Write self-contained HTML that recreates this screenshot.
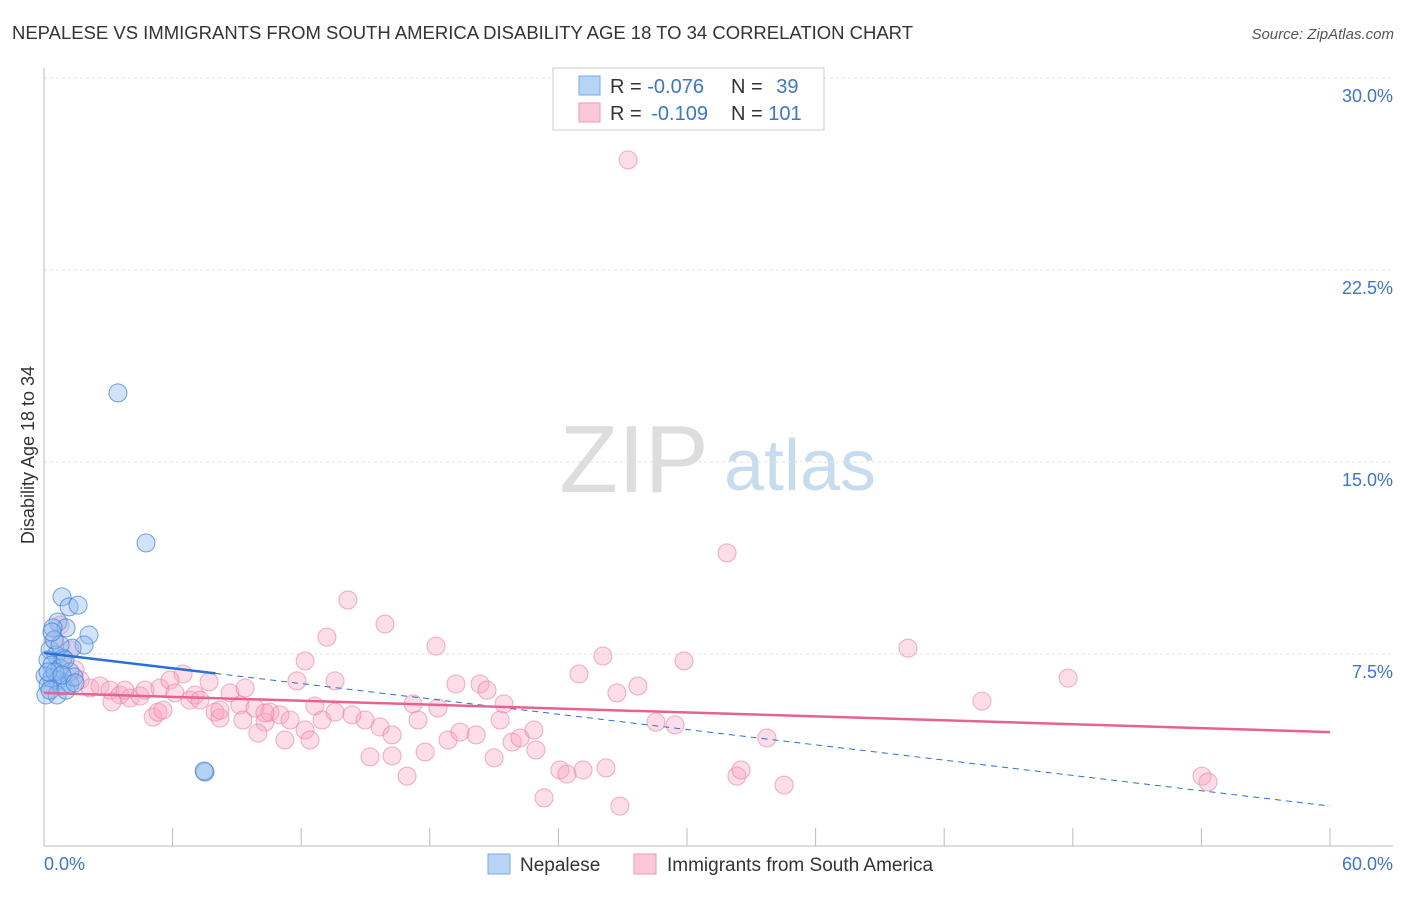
<!DOCTYPE html>
<html><head><meta charset="utf-8"><style>
body{margin:0;background:#fff;font-family:"Liberation Sans",sans-serif}
svg text{font-family:"Liberation Sans",sans-serif}
</style></head><body>
<svg id="c" width="1406" height="892">
<text x="12" y="39" font-size="18" fill="#333" textLength="901" lengthAdjust="spacingAndGlyphs">NEPALESE VS IMMIGRANTS FROM SOUTH AMERICA DISABILITY AGE 18 TO 34 CORRELATION CHART</text>
<text x="1394" y="39" font-size="15" fill="#555" font-style="italic" text-anchor="end">Source: ZipAtlas.com</text>
<text x="634" y="492" font-size="96" fill="#ddd" font-family="Liberation Serif" text-anchor="middle">ZIP</text>
<text x="800" y="490" font-size="72" fill="#c8dcf0" text-anchor="middle">atlas</text>
<text transform="translate(34,455) rotate(-90)" font-size="18" fill="#333" text-anchor="middle">Disability Age 18 to 34</text>
<g id="grid"></g><g id="pts"></g><g id="lines"></g>
<g>
<rect x="553" y="68" width="271" height="62" fill="#fff" stroke="#ccc"/>
<rect x="579" y="76" width="21" height="19" fill="#b8d4f5" stroke="#7aaae8"/>
<rect x="579" y="103" width="21" height="19" fill="#fcc8d8" stroke="#f09ab5"/>
<text x="610" y="93" font-size="20" fill="#333">R = <tspan fill="#3a75d0">-0.076</tspan></text>
<text x="731" y="93" font-size="20" fill="#333">N = <tspan fill="#3a75d0" dx="8">39</tspan></text>
<text x="610" y="120" font-size="20" fill="#333">R = <tspan fill="#3a75d0" dx="4">-0.109</tspan></text>
<text x="731" y="120" font-size="20" fill="#333">N = <tspan fill="#3a75d0">101</tspan></text>
</g>
<g>
<rect x="488" y="854" width="22" height="20" fill="#b8d4f5" stroke="#7aaae8"/>
<text x="520" y="871" font-size="19" fill="#333">Nepalese</text>
<rect x="634" y="854" width="22" height="20" fill="#fcc8d8" stroke="#f09ab5"/>
<text x="667" y="871" font-size="19" fill="#333">Immigrants from South America</text>
</g>
</svg>
<script>
const yTicks=[7.5,15,22.5,30];
const yTickLabels=["7.5%","15.0%","22.5%","30.0%"];
const xTicks=[0,6,12,18,24,30,36,42,48,54,60];
const blueX=[3.45,4.76,7.51,0.84,1.17,1.59,2.10,0.65,1.03,0.42,1.87,1.31,0.28,0.56,0.89,0.19,0.37,0.75,1.21,0.05,0.37,0.65,0.19,0.84,1.21,0.09,0.61,0.28,1.03,1.40,0.47,0.75,0.98,0.51,0.19,0.84,1.45,7.47,0.37];
const blueY=[17.70,11.84,2.89,9.73,9.34,9.41,8.24,8.75,8.52,8.52,7.85,7.73,7.66,7.46,7.34,7.27,7.07,6.95,6.80,6.64,6.56,6.48,6.29,6.25,6.33,5.90,5.90,6.09,6.09,6.60,8.05,7.85,7.27,6.80,6.80,6.68,6.37,2.93,8.36];
const pinkX=[27.25,31.87,14.18,15.91,13.20,18.29,26.08,29.86,40.31,12.18,24.96,47.78,6.49,7.70,11.80,13.58,19.22,20.34,20.67,27.71,26.73,43.76,0.75,0.51,1.21,0.84,1.45,1.68,2.15,2.61,3.08,3.55,4.01,4.48,4.71,5.41,5.88,6.11,6.81,7.05,7.28,7.98,8.21,8.68,9.14,9.38,9.84,10.31,10.54,11.01,11.48,12.18,12.64,12.97,13.58,14.37,14.98,15.68,16.24,17.22,17.45,18.38,18.85,19.41,20.16,21.28,21.46,21.84,22.21,22.86,22.95,5.09,5.32,5.55,3.17,3.78,9.98,11.24,12.41,15.21,16.24,16.94,17.78,21.00,23.33,24.07,24.40,25.15,26.22,26.87,28.55,29.44,32.33,32.52,33.73,34.53,54.03,54.31,8.21,9.28,10.31];
const pinkY=[26.80,11.45,9.61,8.67,8.16,7.81,7.42,7.23,7.73,7.23,6.72,6.56,6.72,6.41,6.45,6.45,6.33,6.33,6.09,6.25,5.98,5.66,8.63,8.05,7.66,7.27,6.88,6.48,6.17,6.25,6.09,5.90,5.78,5.86,6.09,6.17,6.48,5.98,5.70,5.90,5.70,5.23,5.00,5.98,5.51,6.17,5.39,4.84,5.23,5.12,4.92,4.53,5.47,4.92,5.23,5.12,4.92,4.65,4.34,5.55,4.92,5.39,4.14,4.45,4.34,4.92,5.55,4.06,4.22,4.53,3.75,5.04,5.23,5.31,5.63,6.09,4.41,4.14,4.14,3.48,3.52,2.73,3.67,3.44,1.88,2.97,2.81,2.97,3.05,1.56,4.84,4.73,2.73,2.97,4.22,2.38,2.73,2.50,5.31,4.92,5.20];
const blueTrend=[7.54,1.56];
const pinkTrend=[5.98,4.45];
const NS='http://www.w3.org/2000/svg';
const X=v=>44+v/60*1286, Y=v=>846-v/7.5*192;
function mk(t,a,p){const e=document.createElementNS(NS,t);for(const k in a)e.setAttribute(k,a[k]);p.appendChild(e);return e;}
const g=document.getElementById('grid');
let ax=mk('line',{x1:44,y1:68,x2:44,y2:846,stroke:'#bbb'},g);


let bx=mk('line',{x1:44,y1:846,x2:1393,y2:846,stroke:'#bbb'},g);


yTicks.forEach((t,i)=>{
 const l=mk('line',{x1:44,x2:1393,y1:Y(t),y2:Y(t),stroke:'#e2e2e2','stroke-dasharray':'3,3'},g);
 
 
 const tx=mk('text',{x:1393,y:Y(t)+24,'font-size':18,fill:'#3a75d0','text-anchor':'end'},g);
 tx.textContent=yTickLabels[i];
 
 
});
xTicks.forEach(t=>{
 const l=mk('line',{x1:X(t),x2:X(t),y1:828,y2:846,stroke:'#bbb'},g);
 
 
});
let x0=mk('text',{x:44,y:870,'font-size':18,fill:'#3a75d0'},g);x0.textContent='0.0%';


let x1=mk('text',{x:1393,y:870,'font-size':18,fill:'#3a75d0','text-anchor':'end'},g);x1.textContent='60.0%';


const P=document.getElementById('pts');
pinkX.forEach((v,i)=>{const c=mk('circle',{cx:X(v),cy:Y(pinkY[i]),r:9,fill:'rgba(248,160,190,0.35)',stroke:'rgba(235,120,160,0.6)','stroke-width':1},P);
 
 });
blueX.forEach((v,i)=>{const c=mk('circle',{cx:X(v),cy:Y(blueY[i]),r:9,fill:'rgba(140,185,240,0.4)',stroke:'rgba(60,125,215,0.7)','stroke-width':1},P);
 
 });
const L=document.getElementById('lines');
const by=x=>blueTrend[0]+(blueTrend[1]-blueTrend[0])*x/60;
let l1=mk('line',{x1:X(0),y1:Y(by(0)),x2:X(8),y2:Y(by(8)),stroke:'#2a6fd6','stroke-width':2.5},L);


let l2=mk('line',{x1:X(8),y1:Y(by(8)),x2:X(60),y2:Y(by(60)),stroke:'#2a6fd6','stroke-width':1,'stroke-dasharray':'6,5'},L);


let l3=mk('line',{x1:X(0),y1:Y(pinkTrend[0]),x2:X(60),y2:Y(pinkTrend[1]),stroke:'#e8628f','stroke-width':2.5},L);


</script>
</body></html>
